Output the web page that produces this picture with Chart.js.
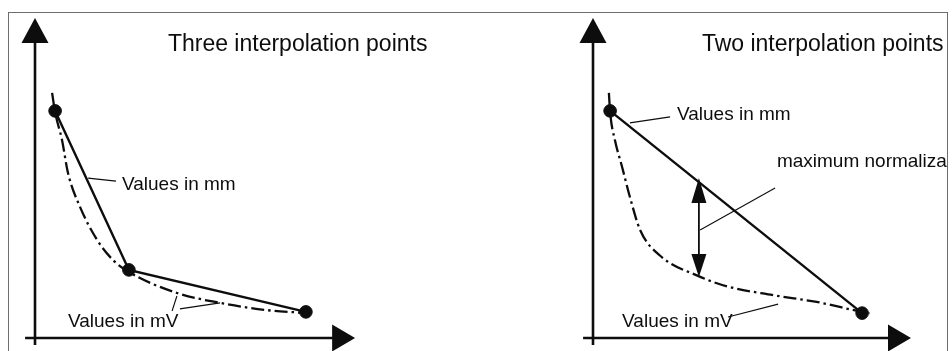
<!DOCTYPE html>
<html>
<head>
<meta charset="utf-8">
<title>Interpolation points</title>
<script src="https://cdn.jsdelivr.net/npm/chart.js@4"></script>
<style>
  html, body { margin: 0; padding: 0; background: #fff; }
  #wrap { position: relative; width: 952px; height: 351px; overflow: hidden; }
  #frame { position: absolute; left: 8px; top: 12px; width: 940px; height: 400px;
           border: 1px solid #6e6e6e; box-sizing: border-box; }
  canvas { position: absolute; top: 0; }
  #leftChart { left: 0; }
  #rightChart { left: 476px; }
</style>
</head>
<body>
<div id="wrap">
  <div id="frame"></div>
  <canvas id="leftChart" width="470" height="351"></canvas>
  <canvas id="rightChart" width="476" height="351"></canvas>
</div>
<script>
// Data (axis units 0..10 on both axes)
const titles = ['Three interpolation points', 'Two interpolation points'];
const seriesNames = ['Values in mm', 'Values in mV'];
const deviationLabel = 'maximum normaliza';

// left: three interpolation points
const leftMmX = [0.67, 3.13, 9.03];
const leftMmY = [7.57, 2.27, 0.87];
const leftMvX = [0.57, 0.67, 0.9, 1.1, 1.5, 2.07, 2.6, 3.13, 4.73, 6.17, 7.73, 9.03, 9.33];
const leftMvY = [8.17, 7.53, 6.6, 5.5, 4.37, 3.27, 2.6, 2.2, 1.5, 1.17, 0.93, 0.83, 0.8];

// right: two interpolation points
const rightMmX = [0.57, 8.97];
const rightMmY = [7.57, 0.83];
const rightMvX = [0.53, 0.57, 0.73, 0.97, 1.23, 1.57, 2.23, 3.5, 4.47, 6.0, 7.57, 8.97, 9.23];
const rightMvY = [8.17, 7.53, 6.6, 5.7, 4.7, 3.6, 2.75, 2.07, 1.72, 1.43, 1.18, 0.87, 0.83];

// deviation marker (right chart)
const deviationX = 3.53;
const deviationFrom = 5.33;
const deviationTo = 2.03;

const ink = '#0d0d0d';
const font = '"Liberation Sans", Arial, sans-serif';

function toPoints(xs, ys) {
    return xs.map((x, i) => ({ x: x, y: ys[i] }));
}

function line(ctx, x1, y1, x2, y2) {
    ctx.beginPath();
    ctx.moveTo(x1, y1);
    ctx.lineTo(x2, y2);
    ctx.stroke();
}

// filled arrow head, tip at (x, y), pointing along (dx, dy)
function head(ctx, x, y, dx, dy, len, half) {
    ctx.beginPath();
    ctx.moveTo(x, y);
    ctx.lineTo(x - dx * len - dy * half, y - dy * len + dx * half);
    ctx.lineTo(x - dx * len + dy * half, y - dy * len - dx * half);
    ctx.closePath();
    ctx.fill();
}

const diagramPlugin = {
    id: 'diagram',
    beforeDatasetsDraw(chart, args, opts) {
        const { ctx, scales: { x, y } } = chart;
        const ox = x.getPixelForValue(0);
        const oy = y.getPixelForValue(0);
        ctx.save();
        ctx.strokeStyle = ink;
        ctx.fillStyle = ink;
        ctx.lineWidth = 2.6;
        // y axis
        const yTip = y.getPixelForValue(opts.yTip);
        line(ctx, ox, y.getPixelForValue(opts.yStart), ox, yTip + 20);
        head(ctx, ox, yTip, 0, -1, 25, 13.5);
        // x axis
        const xTip = x.getPixelForValue(opts.xTip);
        line(ctx, x.getPixelForValue(opts.xStart), oy, xTip - 20, oy);
        head(ctx, xTip, oy, 1, 0, 23, 13.5);
        ctx.restore();
    },
    afterDatasetsDraw(chart, args, opts) {
        const { ctx, scales: { x, y } } = chart;
        ctx.save();
        ctx.beginPath();
        ctx.rect(0, 0, chart.width - opts.clipRight, chart.height);
        ctx.clip();
        ctx.strokeStyle = ink;
        ctx.fillStyle = ink;
        ctx.lineWidth = 1.1;
        opts.leaders.forEach(l => {
            line(ctx, x.getPixelForValue(l[0]), y.getPixelForValue(l[1]),
                      x.getPixelForValue(l[2]), y.getPixelForValue(l[3]));
        });
        if (opts.deviation) {
            const d = opts.deviation;
            const px = x.getPixelForValue(d.x);
            const top = y.getPixelForValue(d.from);
            const bot = y.getPixelForValue(d.to);
            ctx.lineWidth = 1.8;
            line(ctx, px, top + 20, px, bot - 20);
            head(ctx, px, top, 0, -1, 25, 7.5);
            head(ctx, px, bot, 0, 1, 23, 7.5);
        }
        ctx.textBaseline = 'alphabetic';
        ctx.textAlign = 'left';
        opts.texts.forEach(t => {
            ctx.font = t.size + 'px ' + font;
            ctx.fillText(t.text, x.getPixelForValue(t.x), y.getPixelForValue(t.y));
        });
        ctx.restore();
    }
};

function makeChart(id, mmPts, mvPts, padding, diagram) {
    return new Chart(document.getElementById(id), {
        type: 'scatter',
        data: {
            datasets: [{
                label: seriesNames[0],
                data: mmPts,
                showLine: true,
                borderColor: ink,
                borderWidth: 2.4,
                pointRadius: 6.3,
                pointBackgroundColor: ink,
                pointBorderColor: ink,
                pointBorderWidth: 1,
                order: 0
            }, {
                label: seriesNames[1],
                data: mvPts,
                showLine: true,
                borderColor: ink,
                borderWidth: 2.3,
                borderDash: [13, 4, 2.5, 4],
                pointRadius: 0,
                cubicInterpolationMode: 'monotone',
                order: 1
            }]
        },
        options: {
            responsive: false,
            animation: false,
            layout: { padding: padding },
            plugins: {
                legend: { display: false },
                tooltip: { enabled: false },
                diagram: diagram
            },
            scales: {
                x: { type: 'linear', min: 0, max: 10, display: false },
                y: { type: 'linear', min: 0, max: 10, display: false }
            }
        },
        plugins: [diagramPlugin]
    });
}

// Initialize charts
makeChart('leftChart',
    toPoints(leftMmX, leftMmY),
    toPoints(leftMvX, leftMvY),
    { left: 35, right: 135, top: 38, bottom: 13 },
    {
        yStart: -0.23, yTip: 10.67, xStart: -0.33, xTip: 10.67, clipRight: 0,
        leaders: [
            [1.77, 5.33, 2.7, 5.23],
            [4.57, 0.9, 4.73, 1.4],
            [4.83, 0.97, 6.17, 1.17]
        ],
        texts: [
            { text: titles[0], x: 4.43, y: 9.57, size: 23 },
            { text: seriesNames[0], x: 2.9, y: 4.93, size: 19 },
            { text: seriesNames[1], x: 1.1, y: 0.37, size: 19 }
        ]
    });

makeChart('rightChart',
    toPoints(rightMmX, rightMmY),
    toPoints(rightMvX, rightMvY),
    { left: 117, right: 59, top: 38, bottom: 13 },
    {
        yStart: -0.23, yTip: 10.67, xStart: -0.33, xTip: 10.6, clipRight: 5,
        leaders: [
            [1.23, 7.17, 2.57, 7.37],
            [3.57, 3.6, 6.07, 5.0],
            [4.5, 0.7, 6.17, 1.13]
        ],
        deviation: { x: deviationX, from: deviationFrom, to: deviationTo },
        texts: [
            { text: titles[1], x: 3.63, y: 9.57, size: 23 },
            { text: seriesNames[0], x: 2.8, y: 7.27, size: 19 },
            { text: deviationLabel, x: 6.13, y: 5.7, size: 19 },
            { text: seriesNames[1], x: 0.97, y: 0.37, size: 19 }
        ]
    });
</script>
</body>
</html>
